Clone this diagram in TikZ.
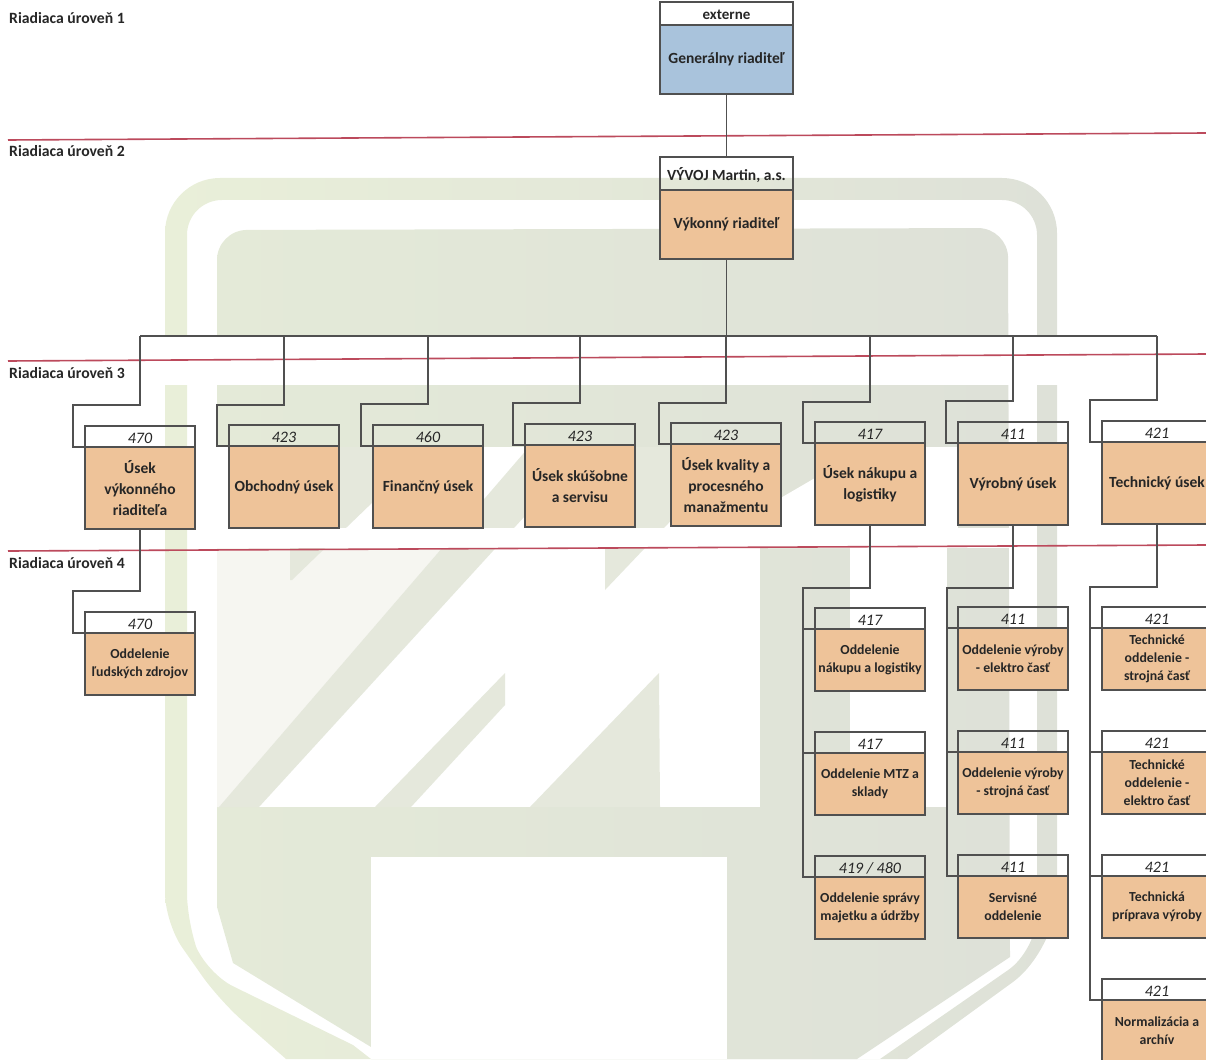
\documentclass[tikz,border=0pt]{standalone}
\usepackage{fontspec}
\setmainfont{Carlito}
\usepackage{xcolor}
\usetikzlibrary{positioning}
\definecolor{wm-left}{HTML}{E4EAD8}
\definecolor{wm-right}{HTML}{DEE1D8}
\definecolor{wm-ring}{HTML}{E9EFD9}
\definecolor{wm-stripe}{HTML}{E5E8DC}
\definecolor{wm-pale}{HTML}{F6F6F1}
\definecolor{box-orange}{HTML}{EEC399}
\definecolor{box-blue}{HTML}{A9C3DC}
\definecolor{box-line}{HTML}{505050}
\definecolor{level-red}{HTML}{BC4A5C}
\tikzset{
    wm-part/.style = {fill=wm-stripe, draw=none},
    wm-cut/.style = {fill=white, draw=none},
    level-line/.style = {draw=level-red, line width=1.6pt},
    level-label/.style = {anchor=west, inner sep=0pt, text=black!85, font=\fontsize{15.7}{17}\selectfont\bfseries},
    head-box/.style = {draw=box-line, line width=1.1pt, minimum width=110pt, minimum height=21pt, inner sep=0pt, outer sep=0pt, anchor=north west, text height=13pt, text depth=0pt, text=black!85, font=\fontsize{16}{18}\selectfont\itshape},
    body-box/.style = {draw=box-line, fill=box-orange, line width=1.1pt, minimum width=110pt, minimum height=82pt, inner sep=0pt, outer sep=0pt, align=center, text=black!85, font=\fontsize{15.5}{21}\selectfont\bfseries},
    sub-box/.style = {body-box, minimum height=62pt, font=\fontsize{13.8}{18}\selectfont\bfseries},
    top-head/.style = {head-box, minimum width=133pt, font=\fontsize{15.5}{18}\selectfont\bfseries},
    top-body/.style = {body-box, minimum width=133pt},
    conn/.style = {draw=box-line, line width=1.3pt},
}
\begin{document}
\begin{tikzpicture}[x=1pt,y=-1pt]
\useasboundingbox (0,0) rectangle (1206,1059);

% watermark
\path[even odd rule, left color=wm-ring, right color=wm-right]
    [rounded corners=55pt] (165,923) -- (165,178) -- (1057,178) -- (1057,950) [sharp corners] -- (907,1059) -- (286,1059) [rounded corners=30pt] -- (219,1000) -- cycle
    [rounded corners=35pt] (187,923) -- (187,200) -- (1037,200) -- (1037,950) [sharp corners] -- (880,1059) -- (371,1059) -- (353,1045) [rounded corners=30pt] -- (206,973) -- cycle;
\path[left color=wm-left, right color=wm-right]
    [rounded corners=30pt] (217,907) -- (217,230) -- (1008,228) [sharp corners] -- (1010,957) -- (857,1059) -- (371,1059) -- (371,1047) -- (233,963) -- cycle;
\path[wm-cut] (150,337) rectangle (1070,385);
\path[wm-cut] (371,857) rectangle (727,1059);
\path[wm-cut] (217,447) rectangle (760,807);
\path[wm-cut] (850,447) rectangle (947,807);
\path[wm-cut] (947,447) rectangle (958,548);
\path[wm-cut] (760,548) -- (760,510) -- (815,478) -- (850,447) -- (850,548) -- cycle;
\path[fill=wm-pale] (217,548) -- (442,548) -- (219,807) -- (217,807) -- cycle;
\path[wm-part] (290,447) -- (430,447) -- (292,580) -- (290,580) -- cycle;
\path[wm-part] (605,447) -- (741,447) -- (605,590) -- cycle;
\path[wm-part] (219,807) -- (259,807) -- (588,447) -- (529,447) -- cycle;
\path[wm-part] (375,807) -- (411,807) -- (505,705) -- (505,673) -- cycle;
\path[wm-part] (530,807) -- (659,673) -- (660,807) -- cycle;
\path[wm-cut] (217,528) rectangle (1010,548);

% levels
\coordinate (line-a-start) at (8,140);
\coordinate (line-a-end) at (1206,133);
\coordinate (line-b-start) at (8,361);
\coordinate (line-b-end) at (1206,354);
\coordinate (line-c-start) at (8,551);
\coordinate (line-c-end) at (1206,545);
\draw[level-line] (line-a-start) -- (line-a-end);
\draw[level-line] (line-b-start) -- (line-b-end);
\draw[level-line] (line-c-start) -- (line-c-end);
\node[level-label] (level-one) at (9,18) {Riadiaca úroveň 1};
\node[level-label] (level-two) at (9,151) {Riadiaca úroveň 2};
\node[level-label] (level-three) at (9,373) {Riadiaca úroveň 3};
\node[level-label] (level-four) at (9,563) {Riadiaca úroveň 4};

% top
\node[top-head, minimum height=23pt, font=\fontsize{15}{18}\selectfont\bfseries] (ceo-head) at (660,2) {externe};
\node[top-body, minimum height=69pt, below=0pt of ceo-head, fill=box-blue] (ceo) {Generálny riaditeľ};
\node[top-head, minimum height=33pt, text height=15pt] (exec-head) at (660,157) {VÝVOJ Martin, a.s.};
\node[top-body, minimum height=69pt, below=0pt of exec-head] (exec) {Výkonný riaditeľ};

% level 3
\node[head-box] (staff-head) at (85,426) {470};
\node[body-box, below=0pt of staff-head] (staff) {Úsek\\výkonného\\riaditeľa};
\node[head-box] (sales-head) at (229,425) {423};
\node[body-box, below=0pt of sales-head] (sales) {Obchodný úsek};
\node[head-box] (finance-head) at (373,425) {460};
\node[body-box, below=0pt of finance-head] (finance) {Finančný úsek};
\node[head-box] (test-head) at (525,424) {423};
\node[body-box, below=0pt of test-head] (test) {Úsek skúšobne\\a servisu};
\node[head-box] (quality-head) at (671,423) {423};
\node[body-box, below=0pt of quality-head] (quality) {Úsek kvality a\\procesného\\manažmentu};
\node[head-box] (buying-head) at (815,422) {417};
\node[body-box, below=0pt of buying-head] (buying) {Úsek nákupu a\\logistiky};
\node[head-box] (making-head) at (958,422) {411};
\node[body-box, below=0pt of making-head] (making) {Výrobný úsek};
\node[head-box] (tech-head) at (1102,421) {421};
\node[body-box, below=0pt of tech-head] (tech) {Technický úsek};

% level 4
\node[head-box] (hr-head) at (85,612) {470};
\node[sub-box, below=0pt of hr-head] (hr) {Oddelenie\\ľudských zdrojov};

\node[head-box] (buy-a-head) at (815,608) {417};
\node[sub-box, below=0pt of buy-a-head] (buy-a) {Oddelenie\\nákupu a logistiky};
\node[head-box] (buy-b-head) at (815,732) {417};
\node[sub-box, below=0pt of buy-b-head] (buy-b) {Oddelenie MTZ a\\sklady};
\node[head-box] (buy-c-head) at (815,856) {419 / 480};
\node[sub-box, below=0pt of buy-c-head] (buy-c) {Oddelenie správy\\majetku a údržby};

\node[head-box] (make-a-head) at (958,607) {411};
\node[sub-box, below=0pt of make-a-head] (make-a) {Oddelenie výroby\\- elektro časť};
\node[head-box] (make-b-head) at (958,731) {411};
\node[sub-box, below=0pt of make-b-head] (make-b) {Oddelenie výroby\\- strojná časť};
\node[head-box] (make-c-head) at (958,855) {411};
\node[sub-box, below=0pt of make-c-head] (make-c) {Servisné\\oddelenie};

\node[head-box] (tech-a-head) at (1102,607) {421};
\node[sub-box, below=0pt of tech-a-head] (tech-a) {Technické\\oddelenie -\\strojná časť};
\node[head-box] (tech-b-head) at (1102,731) {421};
\node[sub-box, below=0pt of tech-b-head] (tech-b) {Technické\\oddelenie -\\elektro časť};
\node[head-box] (tech-c-head) at (1102,855) {421};
\node[sub-box, below=0pt of tech-c-head] (tech-c) {Technická\\príprava výroby};
\node[head-box] (tech-d-head) at (1102,979) {421};
\node[sub-box, below=0pt of tech-d-head] (tech-d) {Normalizácia a\\archív};

% connectors
\coordinate (bus-left) at (140,336);
\coordinate (bus-right) at (1157,336);
\draw[conn] (ceo.south) -- (exec-head.north);
\draw[conn] (exec.south) -- (exec.south |- bus-left);
\draw[conn] (bus-left) -- (bus-right);
\draw[conn] (bus-left) |- ++(-67,69) |- (staff-head.south west);
\draw[conn] (sales.north |- bus-left) |- ++(-67,69) |- (sales-head.south west);
\draw[conn] (finance.north |- bus-left) |- ++(-67,68) |- (finance-head.south west);
\draw[conn] (test.north |- bus-left) |- ++(-67,67) |- (test-head.south west);
\draw[conn] (quality.north |- bus-left) |- ++(-67,67) |- (quality-head.south west);
\draw[conn] (buying.north |- bus-left) |- ++(-67,66) |- (buying-head.south west);
\draw[conn] (making.north |- bus-left) |- ++(-67,65) |- (making-head.south west);
\draw[conn] (bus-right) |- ++(-67,64) |- (tech-head.south west);

\draw[conn] (staff.south) |- ++(-67,62) |- (hr-head.south west);

\draw[conn] (buying.south) |- ++(-67,63) coordinate (buy-rail) |- (buy-c-head.south west);
\draw[conn] (buy-rail |- buy-a-head.south) -- (buy-a-head.south west);
\draw[conn] (buy-rail |- buy-b-head.south) -- (buy-b-head.south west);

\draw[conn] (making.south) |- ++(-66,63) coordinate (make-rail) |- (make-c-head.south west);
\draw[conn] (make-rail |- make-a-head.south) -- (make-a-head.south west);
\draw[conn] (make-rail |- make-b-head.south) -- (make-b-head.south west);

\draw[conn] (tech.south) |- ++(-67,63) coordinate (tech-rail) |- (tech-d-head.south west);
\draw[conn] (tech-rail |- tech-a-head.south) -- (tech-a-head.south west);
\draw[conn] (tech-rail |- tech-b-head.south) -- (tech-b-head.south west);
\draw[conn] (tech-rail |- tech-c-head.south) -- (tech-c-head.south west);
\end{tikzpicture}
\end{document}
